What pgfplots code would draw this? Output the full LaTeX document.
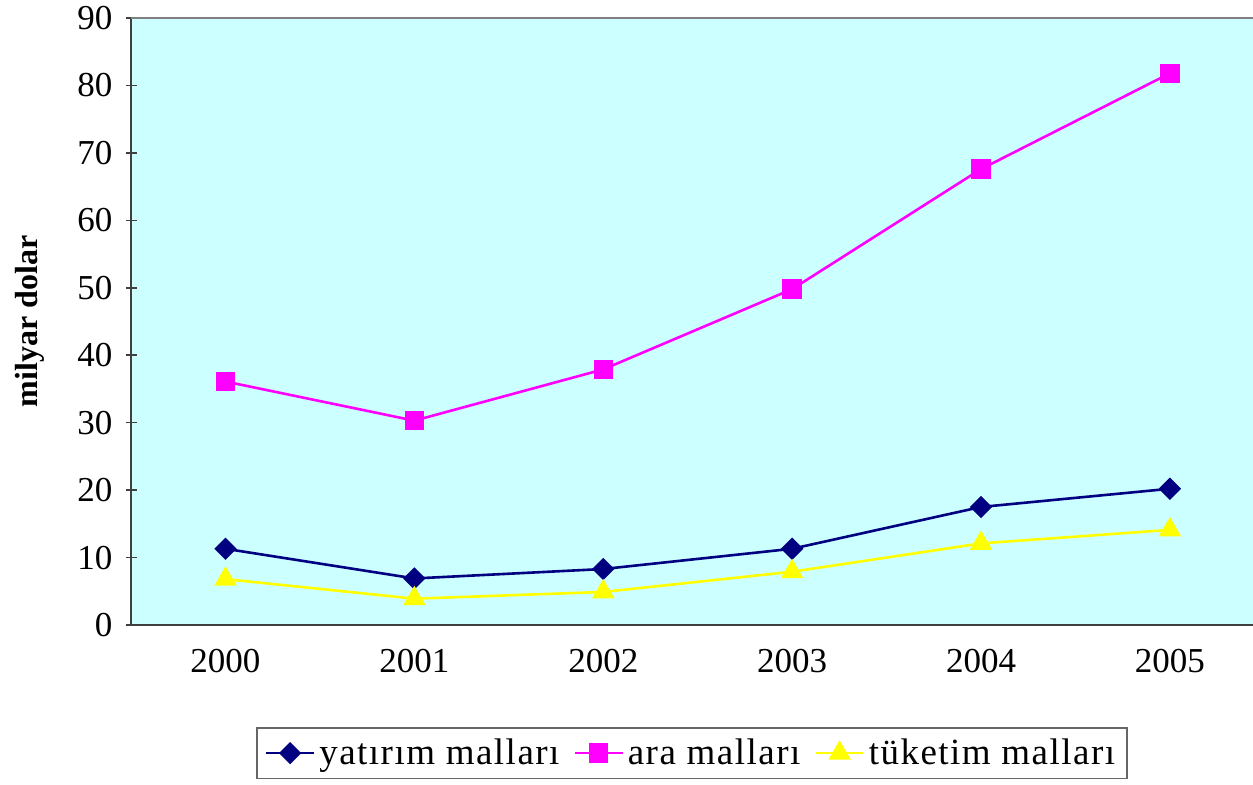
\documentclass[border=0pt]{standalone}
\usepackage{fontspec}
\setmainfont{Liberation Serif}
\newfontfamily\legfont{Liberation Serif}[LetterSpace=4]
\usepackage{pgfplots}
\pgfplotsset{compat=1.18}
\definecolor{bgc}{HTML}{CCFFFF}
\definecolor{c1}{HTML}{000080}
\definecolor{c2}{HTML}{FF00FF}
\definecolor{c3}{HTML}{FFFF00}
\begin{document}
\begin{tikzpicture}
\begin{axis}[
  scale only axis,
  width=561pt, height=303.5pt,
  xmin=-0.5, xmax=5.44,
  ymin=0, ymax=90,
  ytick={0,10,...,90},
  xtick={0,...,5},
  xticklabels={2000,2001,2002,2003,2004,2005},
  x tick style={draw=none},
  extra x ticks={-0.5,0.5,1.5,2.5,3.5,4.5},
  extra x tick labels={},
  extra x tick style={tick style={draw=black!75,line width=0.8pt}, major tick length=5pt},
  y tick style={draw=black!75,line width=0.8pt},
  major tick length=5.5pt,
  tick align=outside,
  axis x line=bottom, axis y line=left,
  axis line style={-, draw=black!75, line width=1pt},
  axis background/.style={fill=bgc},
  /pgf/number format/assume math mode=true,
  tick label style={font=\fontsize{17.5}{20}\selectfont},
  xticklabel style={yshift=-6pt},
  yticklabel style={xshift=-3pt},
  ylabel={\textbf{milyar dolar}},
  ylabel style={at={(rel axis cs:-0.090,0.5)}, anchor=center, font=\fontsize{16}{19}\selectfont},
  legend columns=3,
  legend style={at={(0.5,-0.168)}, anchor=north, draw=black!60, line width=0.8pt,
    font=\legfont\fontsize{18.5}{22}\selectfont, inner xsep=4pt, inner ysep=3.5pt,
    /tikz/every even column/.append style={column sep=5pt}},
  legend image code/.code={\draw[mark repeat=2,mark phase=2] plot coordinates {(0cm,0cm)(0.42cm,0cm)(0.84cm,0cm)};},
  clip=false,
]
\addplot[c1, line width=1.3pt, mark=square*, mark size=3.3pt, mark options={rotate=45, solid}]
  coordinates {(0,11.3)(1,6.9)(2,8.3)(3,11.3)(4,17.5)(5,20.2)};
\addlegendentry{yatırım malları}
\addplot[c2, line width=1.3pt, mark=square*, mark size=4.2pt, mark options={solid}]
  coordinates {(0,36.1)(1,30.3)(2,37.9)(3,49.8)(4,67.6)(5,81.8)};
\addlegendentry{ara malları}
\addplot[c3, line width=1.3pt, mark=triangle*, mark size=5.2pt, mark options={solid}]
  coordinates {(0,6.8)(1,3.9)(2,4.9)(3,7.9)(4,12.1)(5,14.1)};
\addlegendentry{tüketim malları}
\draw[black!50, line width=1pt] (rel axis cs:0,1) -- (rel axis cs:1,1);
\coordinate (bl) at (rel axis cs:-0.1168,-0.262);
\coordinate (tr) at (rel axis cs:1,1.0297);
\end{axis}
\pgfresetboundingbox
\path (bl) rectangle (tr);
\end{tikzpicture}
\end{document}
